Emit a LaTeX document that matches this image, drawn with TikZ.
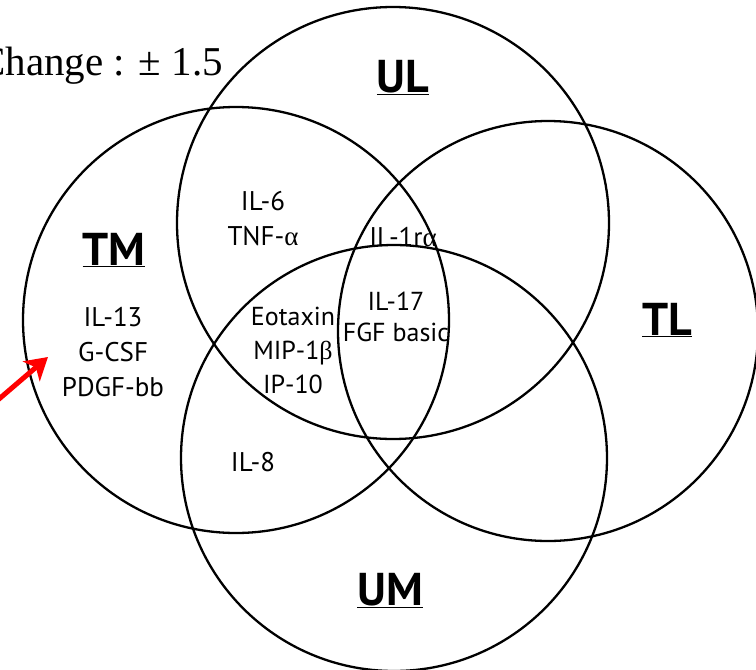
\documentclass[tikz,border=0pt]{standalone}
\usepackage{fontspec}
\setmainfont{Liberation Serif}
\newfontfamily\vennfont{PT Sans}
\usetikzlibrary{arrows.meta,positioning}
\newcommand{\grk}[1]{{\rmfamily #1}}

\begin{document}
\begin{tikzpicture}[x=1pt,y=-1pt,-]
  \tikzstyle{ring}=[circle,draw,line width=2.3pt,inner sep=0pt]
  \tikzstyle{group}=[font=\vennfont\bfseries\fontsize{46}{50}\selectfont,inner sep=0pt,anchor=base]
  \tikzstyle{gene}=[font=\vennfont\fontsize{27}{35}\selectfont,align=center,inner sep=0pt]
  \useasboundingbox (0,0) rectangle (756,670);

  \foreach \name/\x/\y/\r in {ul/393/223/216, tm/236/320/213, tl/548/331/210, um/394/458/213}
    \node[ring,minimum size=\r*2pt] (\name) at (\x,\y) {};

  % group names
  \node[group] (UL) at (403,92) {\underline{UL}};
  \node[group] (TM) at (114,265) {\underline{TM}};
  \node[group] (TL) at (667,335) {\underline{TL}};
  \node[group] (UM) at (390,605) {\underline{UM}};

  % cytokines
  \node[gene] (tmonly) at (113,352) {IL-13\\G-CSF\\PDGF-bb};
  \node[gene] (ultm) at (263,219) {IL-6\\TNF-\grk{α}};
  \node[gene] (ultl) at (403,237) {IL-1r\grk{α}};
  \node[gene,font=\vennfont\fontsize{26}{31}\selectfont] (allfour) at (396,317) {IL-17\\FGF basic};
  \node[gene,font=\vennfont\fontsize{26}{34}\selectfont] (threeway) at (293,350) {Eotaxin\\MIP-1\grk{β}\\IP-10};
  \node[gene] (tmum) at (253,462) {IL-8};

  \node[font=\fontsize{41}{46}\selectfont,inner sep=0pt,anchor=base east] (cutoff) at (223,75) {Change : ± 1.5};

  \coordinate (tail) at (-8,405);
  \coordinate (tip) at (48,357);
  \draw[red,line width=5pt,-{Stealth[length=22pt,width=26pt,inset=6pt]}] (tail) -- (tip);
\end{tikzpicture}
\end{document}
